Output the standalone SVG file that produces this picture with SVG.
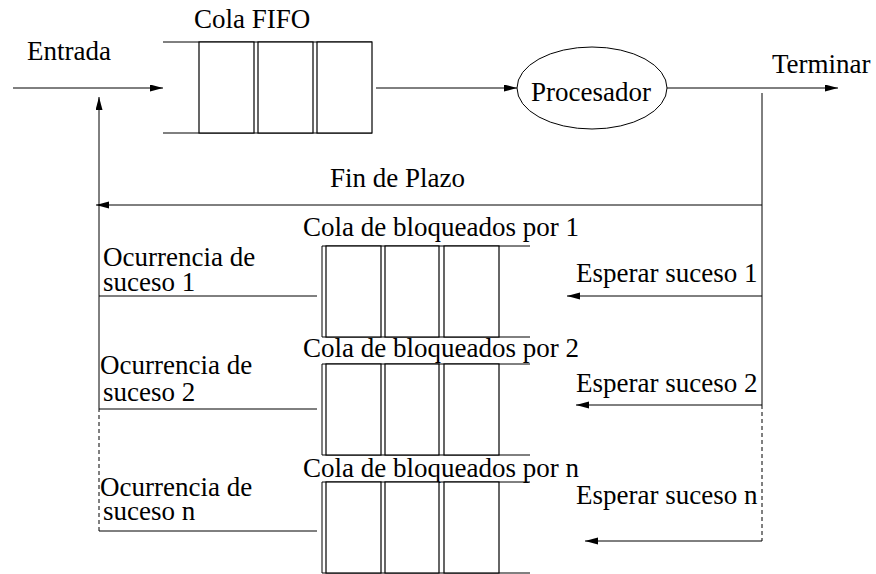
<svg xmlns="http://www.w3.org/2000/svg" width="876" height="574" viewBox="0 0 876 574">
<style>
  text { font-family: "Liberation Serif", "Times New Roman", serif; font-size: 27px; fill: #000; }
  .ln { stroke: #000; stroke-width: 1; fill: none; }
  .dash { stroke: #000; stroke-width: 1; fill: none; stroke-dasharray: 4 3; }
  .box { stroke: #000; stroke-width: 1.2; fill: #fff; }
</style>
<defs>
  <marker id="ah" markerUnits="userSpaceOnUse" markerWidth="14" markerHeight="8" refX="13" refY="3.5" orient="auto">
    <path d="M0,0 L13,3.5 L0,7 z" fill="#000"/>
  </marker>
</defs>
<rect width="876" height="574" fill="#fff"/>

<g id="fifo">
  <text x="194" y="28">Cola FIFO</text>
  <line class="ln" x1="163" y1="42" x2="372" y2="42"/>
  <line class="ln" x1="163" y1="133" x2="372" y2="133"/>
  <rect class="box" x="199" y="42" width="55" height="91"/>
  <rect class="box" x="258" y="42" width="55" height="91"/>
  <rect class="box" x="317" y="42" width="55" height="91"/>
</g>

<g id="procesador">
  <ellipse class="ln" cx="592" cy="88" rx="75" ry="41"/>
  <text x="531" y="101">Procesador</text>
</g>

<g id="cola1">
  <text x="303" y="236">Cola de bloqueados por 1</text>
  <line class="ln" x1="322" y1="246" x2="530" y2="246"/>
  <line class="ln" x1="322" y1="337" x2="530" y2="337"/>
  <line class="ln" x1="322" y1="246" x2="322" y2="337"/>
  <rect class="box" x="326" y="246" width="55" height="91"/>
  <rect class="box" x="385" y="246" width="54" height="91"/>
  <rect class="box" x="444" y="246" width="55" height="91"/>
</g>

<g id="cola2">
  <text x="303" y="357">Cola de bloqueados por 2</text>
  <line class="ln" x1="322" y1="364" x2="530" y2="364"/>
  <line class="ln" x1="322" y1="455" x2="530" y2="455"/>
  <line class="ln" x1="322" y1="364" x2="322" y2="455"/>
  <rect class="box" x="326" y="364" width="55" height="91"/>
  <rect class="box" x="385" y="364" width="54" height="91"/>
  <rect class="box" x="444" y="364" width="55" height="91"/>
</g>

<g id="colan">
  <text x="303" y="477">Cola de bloqueados por n</text>
  <line class="ln" x1="322" y1="482" x2="530" y2="482"/>
  <line class="ln" x1="322" y1="573" x2="530" y2="573"/>
  <line class="ln" x1="322" y1="482" x2="322" y2="573"/>
  <rect class="box" x="326" y="482" width="55" height="91"/>
  <rect class="box" x="385" y="482" width="54" height="91"/>
  <rect class="box" x="444" y="482" width="55" height="91"/>
</g>

<g id="connectors">
  <line class="ln" x1="13" y1="88" x2="163" y2="88" marker-end="url(#ah)"/>
  <line class="ln" x1="376" y1="88" x2="517" y2="88" marker-end="url(#ah)"/>
  <line class="ln" x1="667" y1="88" x2="838" y2="88" marker-end="url(#ah)"/>
  <line class="ln" x1="762" y1="93" x2="762" y2="405"/>
  <line class="dash" x1="762" y1="405" x2="762" y2="541"/>
  <line class="ln" x1="762" y1="205" x2="96" y2="205" marker-end="url(#ah)"/>
  <line class="ln" x1="762" y1="296" x2="567" y2="296" marker-end="url(#ah)"/>
  <line class="ln" x1="762" y1="405" x2="576" y2="405" marker-end="url(#ah)"/>
  <line class="ln" x1="762" y1="541" x2="585" y2="541" marker-end="url(#ah)"/>
  <line class="dash" x1="99" y1="531" x2="99" y2="409"/>
  <line class="ln" x1="99" y1="409" x2="99" y2="97" marker-end="url(#ah)"/>
  <line class="ln" x1="99" y1="296" x2="317" y2="296"/>
  <line class="ln" x1="99" y1="409" x2="317" y2="409"/>
  <line class="ln" x1="99" y1="531" x2="317" y2="531"/>
</g>

<g id="labels">
  <text x="27" y="60">Entrada</text>
  <text x="772" y="73">Terminar</text>
  <text x="330" y="187">Fin de Plazo</text>
  <text x="103" y="266">Ocurrencia de</text>
  <text x="103" y="291">suceso 1</text>
  <text x="100" y="374">Ocurrencia de</text>
  <text x="103" y="401">suceso 2</text>
  <text x="100" y="496">Ocurrencia de</text>
  <text x="103" y="520">suceso n</text>
  <text x="576" y="282">Esperar suceso 1</text>
  <text x="576" y="392">Esperar suceso 2</text>
  <text x="576" y="504">Esperar suceso n</text>
</g>
</svg>
